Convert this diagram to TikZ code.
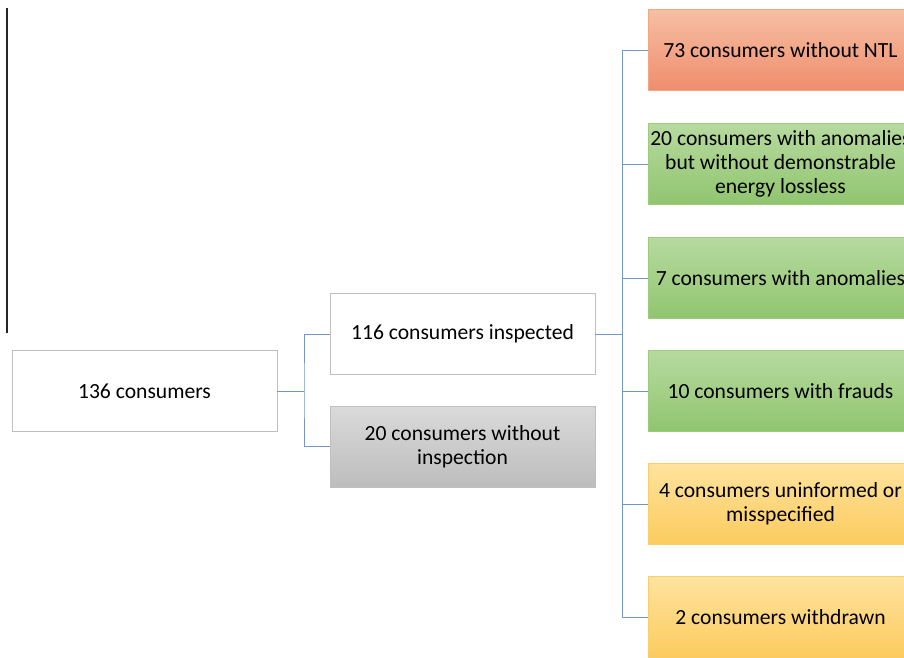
\documentclass[tikz,border=0pt]{standalone}
\usepackage{fontspec}
\setmainfont{Carlito}
\definecolor{conn}{HTML}{7396C4}
\definecolor{wborder}{HTML}{BFBFBF}
\definecolor{gtop}{HTML}{DADADA}
\definecolor{gbot}{HTML}{BDBDBD}
\definecolor{otop}{HTML}{F6BFA2}
\definecolor{obot}{HTML}{F08D6E}
\definecolor{oborder}{HTML}{F4A582}
\definecolor{grtop}{HTML}{B7DA9F}
\definecolor{grbot}{HTML}{90C56F}
\definecolor{grborder}{HTML}{9CCB7E}
\definecolor{ytop}{HTML}{FEE39E}
\definecolor{ybot}{HTML}{FCCB5E}
\definecolor{yborder}{HTML}{F9CF6A}
\tikzset{
  box/.style={rectangle, minimum width=265pt, minimum height=81pt, align=center,
    font=\fontsize{21.6}{24}\selectfont, inner sep=0pt, line width=0.8pt},
  wbox/.style={box, draw=wborder, fill=white},
  graybox/.style={box, draw=wborder, top color=gtop, bottom color=gbot},
  orbox/.style={box, draw=oborder, top color=otop, bottom color=obot},
  grbox/.style={box, draw=grborder, top color=grtop, bottom color=grbot},
  yebox/.style={box, draw=yborder, top color=ytop, bottom color=ybot},
  link/.style={draw=conn, line width=0.8pt},
}
\begin{document}
\begin{tikzpicture}[x=1pt,y=-1pt]
\useasboundingbox (0,0) rectangle (904,657);
\clip (0,0) rectangle (904,657);
\fill[white] (0,0) rectangle (904,657);
\draw[line width=1.2pt, black!85] (7,8) -- (7,333);
\node[wbox] (root) at (144.5,391) {136 consumers};
\node[wbox] (insp) at (462.5,334) {116 consumers inspected};
\node[graybox] (noinsp) at (462.5,446.5) {20 consumers without\\inspection};
\node[orbox] (r1) at (780.5,50) {73 consumers without NTL};
\node[grbox] (r2) at (780.5,164) {20 consumers with anomalies\\but without demonstrable\\energy lossless};
\node[grbox] (r3) at (780.5,278) {7 consumers with anomalies};
\node[grbox] (r4) at (780.5,391) {10 consumers with frauds};
\node[yebox] (r5) at (780.5,504) {4 consumers uninformed or\\misspecified};
\node[yebox] (r6) at (780.5,617) {2 consumers withdrawn};
\coordinate (j1) at (304,391);
\coordinate (j2) at (622,334);
\draw[link] (root.east) -- (j1);
\draw[link] (insp.west) -| (j1) |- (noinsp.west);
\draw[link] (insp.east) -- (j2);
\foreach \r in {r1,r2,r3,r4,r5,r6}{
  \draw[link] (j2) |- (\r.west);
}
\end{tikzpicture}
\end{document}
